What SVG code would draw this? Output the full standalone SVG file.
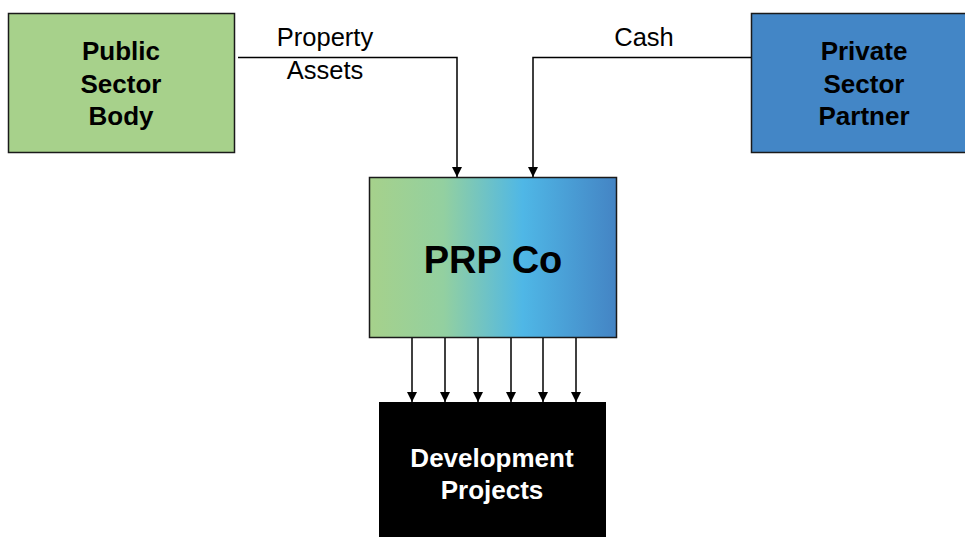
<svg xmlns="http://www.w3.org/2000/svg" width="965" height="537" viewBox="0 0 965 537">
<style>
.box{stroke:#1a1a1a;stroke-width:1.5}
.t{font-family:"Liberation Sans",Arial,sans-serif;font-weight:bold;font-size:26px;text-anchor:middle;fill:#000}
.w{fill:#fff}
.l{font-family:"Liberation Sans",Arial,sans-serif;font-size:25.5px;text-anchor:middle;fill:#000}
.c{fill:none;stroke:#000;stroke-width:1.5;marker-end:url(#ah)}
</style>
<defs>
<marker id="ah" viewBox="0 0 10 10" refX="10" refY="5" markerWidth="10" markerHeight="10" markerUnits="userSpaceOnUse" orient="auto"><path d="M0,0L10,5L0,10z" fill="#000"/></marker>
<linearGradient id="g" x1="0" y1="0" x2="1" y2="0">
<stop offset="0" stop-color="#a6d18b"/>
<stop offset="0.3" stop-color="#93d0a0"/>
<stop offset="0.62" stop-color="#4fb7e6"/>
<stop offset="1" stop-color="#4484c4"/>
</linearGradient>
</defs>
<rect width="965" height="537" fill="#fff"/>
<g id="public">
<rect class="box" x="8.5" y="13.5" width="226" height="139" fill="#a7d18b"/>
<text class="t" x="121" y="60">Public</text>
<text class="t" x="121" y="93">Sector</text>
<text class="t" x="121" y="125">Body</text>
</g>
<g id="private">
<rect class="box" x="751.5" y="13.5" width="220" height="139" fill="#4386c6"/>
<text class="t" x="864" y="60">Private</text>
<text class="t" x="864" y="93">Sector</text>
<text class="t" x="864" y="125">Partner</text>
</g>
<g id="prpco">
<rect class="box" x="369.5" y="177.5" width="247" height="160" fill="url(#g)"/>
<text class="t" x="493" y="273" style="font-size:38px">PRP Co</text>
</g>
<g id="dev">
<rect x="379" y="402" width="227" height="140" fill="#000"/>
<text class="t w" x="492" y="467">Development</text>
<text class="t w" x="492" y="499">Projects</text>
</g>
<g id="connectors">
<path class="c" d="M238,57.5H457V177"/>
<path class="c" d="M751,57.5H533V177"/>
<path class="c" d="M412,338V402"/>
<path class="c" d="M445,338V402"/>
<path class="c" d="M478,338V402"/>
<path class="c" d="M511,338V402"/>
<path class="c" d="M543,338V402"/>
<path class="c" d="M576,338V402"/>
<text class="l" x="325" y="46">Property</text>
<text class="l" x="325" y="79">Assets</text>
<text class="l" x="644" y="46">Cash</text>
</g>
</svg>
